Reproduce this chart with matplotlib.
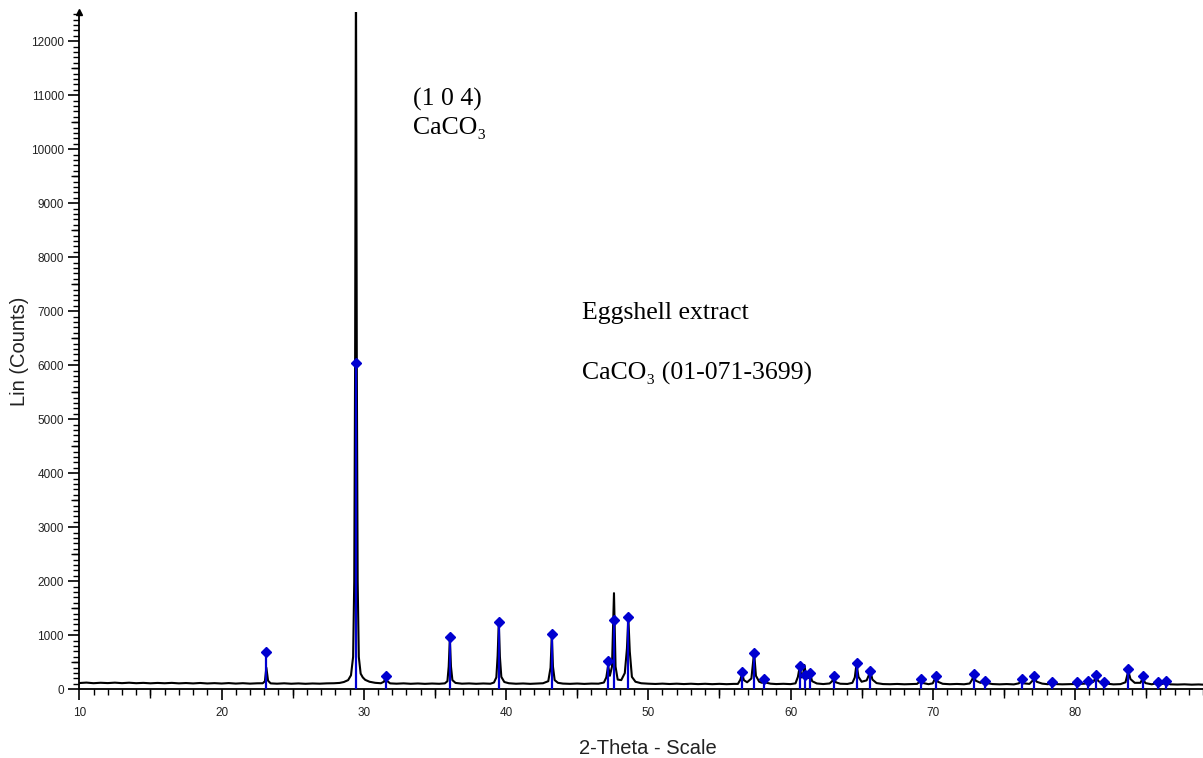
import matplotlib.pyplot as plt
from matplotlib.ticker import MultipleLocator, FixedLocator

trace_2theta = [
    10.0, 10.5, 11.0, 11.5, 12.0, 12.5, 13.0, 13.5, 14.0, 14.5,
    15.0, 15.5, 16.0, 16.5, 17.0, 17.5, 18.0, 18.5, 19.0, 19.5,
    20.0, 20.5, 21.0, 21.5, 22.0, 22.5, 22.9, 23.05, 23.15, 23.27,
    23.45, 23.9, 24.4, 24.9, 25.4, 25.9, 26.4, 26.9, 27.4, 27.9,
    28.3, 28.6, 28.9, 29.1, 29.25, 29.33, 29.39, 29.45, 29.51, 29.57,
    29.65, 29.78, 29.93, 30.1, 30.4, 30.8, 31.2, 31.42, 31.54, 31.66,
    31.85, 32.3, 32.8, 33.3, 33.8, 34.3, 34.8, 35.3, 35.7, 35.88,
    35.97, 36.05, 36.13, 36.23, 36.45, 36.9, 37.4, 37.9, 38.4, 38.9,
    39.15, 39.32, 39.41, 39.49, 39.57, 39.67, 39.88, 40.2, 40.7, 41.2,
    41.7, 42.2, 42.6, 42.97, 43.13, 43.22, 43.3, 43.42, 43.65, 44.0,
    44.5, 45.0, 45.5, 46.0, 46.5, 46.88, 47.05, 47.18, 47.3, 47.45,
    47.59, 47.7, 47.85, 48.1, 48.35, 48.5, 48.6, 48.7, 48.85, 49.1,
    49.5, 50.0, 50.5, 51.0, 51.5, 52.0, 52.5, 53.0, 53.5, 54.0,
    54.5, 55.0, 55.5, 56.0, 56.3, 56.48, 56.6, 56.72, 56.95, 57.25,
    57.44, 57.57, 57.8, 58.0, 58.12, 58.25, 58.6, 59.0, 59.5, 60.0,
    60.35, 60.52, 60.65, 60.78, 60.88, 60.98, 61.1, 61.25, 61.38, 61.52,
    61.85, 62.3, 62.75, 62.93, 63.04, 63.18, 63.5, 64.0, 64.35, 64.52,
    64.64, 64.78, 65.0, 65.35, 65.62, 65.76, 66.05, 66.5, 67.0, 67.5,
    68.0, 68.5, 68.9, 69.03, 69.14, 69.28, 69.7, 70.0, 70.22, 70.36,
    70.7, 71.2, 71.7, 72.2, 72.6, 72.77, 72.88, 73.02, 73.35, 73.67,
    73.82, 74.2, 74.7, 75.2, 75.7, 76.05, 76.25, 76.4, 76.8, 77.02,
    77.14, 77.3, 77.7, 78.1, 78.4, 78.6, 79.1, 79.6, 80.0, 80.16,
    80.35, 80.7, 80.89, 81.05, 81.3, 81.48, 81.65, 81.88, 82.06, 82.25,
    82.7, 83.2, 83.55, 83.75, 83.9, 84.2, 84.6, 84.76, 84.95, 85.4,
    85.81, 86.05, 86.42, 86.7, 87.2, 87.7, 88.2, 88.7, 89.0,
]
trace_counts = [
    116, 124, 113, 121, 115, 123, 114, 122, 113, 119,
    111, 118, 112, 119, 110, 116, 109, 117, 108, 114,
    107, 115, 106, 113, 105, 111, 112, 150, 400, 160,
    110, 104, 111, 103, 109, 102, 108, 104, 110, 112,
    118, 135, 170, 260, 600, 2000, 6000, 13500, 6000, 2000,
    600, 290, 220, 175, 140, 120, 112, 140, 228, 150,
    110, 104, 110, 102, 108, 101, 107, 102, 110, 150,
    420, 930, 420, 170, 118, 104, 109, 102, 108, 103,
    125, 220, 620, 1230, 600, 230, 135, 112, 103, 108,
    101, 106, 112, 150, 400, 1000, 420, 170, 120, 106,
    101, 107, 100, 106, 104, 125, 220, 440, 250, 420,
    1780, 420, 180, 170, 300, 750, 1320, 700, 230, 140,
    112, 104, 99, 105, 98, 104, 97, 103, 96, 102,
    95, 101, 95, 100, 100, 180, 300, 170, 130, 200,
    680, 250, 140, 120, 170, 125, 104, 97, 102, 96,
    110, 230, 420, 220, 260, 450, 230, 210, 290, 150,
    108, 97, 108, 150, 230, 130, 103, 99, 120, 220,
    470, 230, 140, 165, 330, 180, 115, 97, 94, 99,
    93, 98, 100, 130, 170, 118, 95, 110, 230, 140,
    102, 94, 99, 93, 108, 180, 260, 160, 120, 145,
    115, 97, 92, 97, 91, 110, 170, 110, 100, 160,
    230, 140, 105, 94, 122, 97, 92, 96, 98, 122,
    100, 105, 150, 115, 140, 230, 150, 118, 140, 105,
    91, 96, 130, 340, 190, 120, 120, 200, 115, 92,
    120, 94, 122, 92, 88, 92, 86, 90, 86,
]

# reference pattern CaCO3 (01-071-3699), stick positions and heights
ref_2theta = [23.15, 29.46, 31.54, 36.05, 39.49, 43.22, 47.18, 47.6, 48.6,
              56.6, 57.44, 58.12, 60.65, 61.0, 61.38, 63.04, 64.64, 65.62,
              69.14, 70.22, 72.88, 73.67, 76.25, 77.14, 78.4, 80.16, 80.89,
              81.48, 82.06, 83.75, 84.76, 85.81, 86.42]
ref_counts = [690, 6050, 240, 975, 1253, 1030, 518, 1283, 1333,
              320, 680, 185, 440, 260, 300, 250, 490, 330,
              185, 250, 283, 160, 185, 253, 135, 135, 160,
              265, 140, 383, 246, 135, 160]

x_ticks = [10, 20, 30, 40, 50, 60, 70, 80]
y_ticks = list(range(0, 12001, 1000))

W, H = 1203, 758
fig = plt.figure(figsize=(W / 100, H / 100), dpi=100)
ax = fig.add_axes([79.3 / W, 1 - 689.3 / H, (W - 79.3) / W, (689.3 - 12) / H])

ax.plot(trace_2theta, trace_counts, color="black", lw=1.5, zorder=2)
ax.vlines(ref_2theta, 0, ref_counts, colors="#0000d0", lw=1.6, zorder=3)
ax.plot(ref_2theta, ref_counts, "D", color="#0000d0", ms=5.3, zorder=4)

ax.set_xlim(10, 89.0)
ax.set_ylim(0, 12540)

for s in ["top", "right"]:
    ax.spines[s].set_visible(False)
ax.spines["left"].set_linewidth(1.3)
ax.spines["bottom"].set_linewidth(1.3)

tick_font = {"family": "Liberation Sans", "size": 8.5}
ax.set_xticks(x_ticks)
ax.set_yticks(y_ticks)
ax.set_xticklabels([str(t) for t in x_ticks], fontdict=tick_font, color="#222222")
ax.set_yticklabels([str(t) for t in y_ticks], fontdict=tick_font, color="#222222")
ax.xaxis.set_minor_locator(MultipleLocator(1))
ax.yaxis.set_minor_locator(MultipleLocator(100))
ax.tick_params(axis="x", which="major", length=8, width=1.2, pad=5)
ax.tick_params(axis="y", which="major", length=8, width=1.2, pad=3)
ax.tick_params(which="minor", length=4, width=1.0)

# medium ticks at the halves
secx = ax.secondary_xaxis("bottom")
secx.xaxis.set_major_locator(FixedLocator([15, 25, 35, 45, 55, 65, 75, 85]))
secx.tick_params(length=6.5, width=1.0, labelbottom=False)
secx.spines["bottom"].set_visible(False)
secy = ax.secondary_yaxis("left")
secy.yaxis.set_major_locator(FixedLocator(list(range(500, 12001, 1000))))
secy.tick_params(length=6, width=1.0, labelleft=False)
secy.spines["left"].set_visible(False)

# arrow on top of y axis
ax.plot(0, 1, marker="^", color="black", ms=5, transform=ax.transAxes, clip_on=False)

ax.set_xlabel("2-Theta - Scale", family="Liberation Sans", size=14.5, color="#222222")
ax.set_ylabel("Lin (Counts)", family="Liberation Sans", size=14.5, color="#222222")
ax.xaxis.set_label_coords((647.5 - 79.3) / (W - 79.3), (689.3 - 748.3) / 677.3)
ax.xaxis.label.set_va("center")
ax.yaxis.set_label_coords((20 - 79.3) / (W - 79.3), (689.3 - 351) / 677.3)
ax.yaxis.label.set_va("center")

serif = ["Liberation Serif", "DejaVu Serif"]
fig.text(413 / W, 1 - 106 / H, "(1 0 4)", family=serif, size=18.5, va="baseline")
fig.text(413 / W, 1 - 134 / H, "CaCO\u2083", family=serif, size=18.5, va="baseline")
fig.text(581.7 / W, 1 - 319.3 / H, "Eggshell extract", family=serif, size=18.5, va="baseline")
fig.text(581.7 / W, 1 - 379.3 / H, "CaCO\u2083 (01-071-3699)", family=serif, size=18.5, va="baseline")

plt.savefig("out.png", dpi=100)
